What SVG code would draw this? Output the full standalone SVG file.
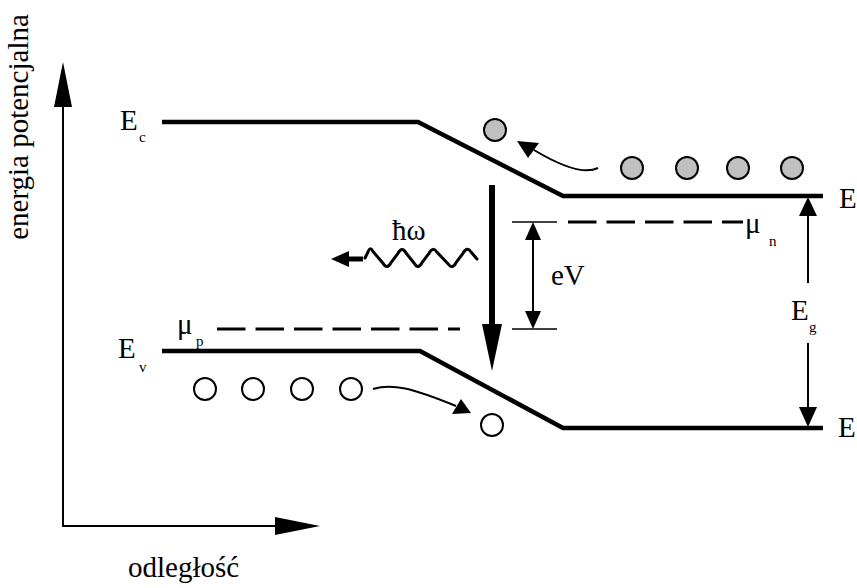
<svg xmlns="http://www.w3.org/2000/svg" width="857" height="588" viewBox="0 0 857 588">
<style>
  text { font-family: "Liberation Serif", "Times New Roman", serif; fill: #000; }
  .lbl { font-size: 29px; }
  .sub { font-size: 15px; }
  .band { fill: none; stroke: #000; stroke-width: 4.5; }
  .dash { fill: none; stroke: #000; stroke-width: 3; stroke-dasharray: 28.5 10; }
  .thin { fill: none; stroke: #000; stroke-width: 2; }
  .tick { fill: none; stroke: #000; stroke-width: 1.5; }
  .head { fill: #000; stroke: none; }
  .el { fill: #c0c0c0; stroke: #000; stroke-width: 2; }
  .hole { fill: #fff; stroke: #000; stroke-width: 2; }
</style>
<rect width="857" height="588" fill="#fff"/>

<g id="axes">
  <line class="thin" x1="63" y1="527" x2="63" y2="100"/>
  <polygon class="head" points="63,62 72,107 54,107"/>
  <line class="thin" x1="62" y1="526" x2="280" y2="526"/>
  <polygon class="head" points="320,526 275,517 275,535"/>
  <text class="lbl" transform="translate(28,127) rotate(-90)" text-anchor="middle">energia potencjalna</text>
  <text class="lbl" x="128" y="577">odległość</text>
</g>

<g id="conduction-band">
  <polyline class="band" points="162,122 418,122 563,196 823,196"/>
  <text class="lbl" x="120" y="130">E</text><text class="sub" x="139" y="142">c</text>
  <text class="lbl" x="839" y="208">E</text>
</g>

<g id="valence-band">
  <polyline class="band" points="162,351 420,351 563,428 823,428"/>
  <text class="lbl" x="118" y="358">E</text><text class="sub" x="139" y="372">v</text>
  <text class="lbl" x="838" y="437">E</text>
</g>

<g id="mu-n">
  <line class="dash" x1="568" y1="222" x2="743" y2="222"/>
  <text class="lbl" x="745" y="233">μ</text><text class="sub" x="769" y="246">n</text>
</g>

<g id="mu-p">
  <line class="dash" x1="217" y1="329" x2="460" y2="329"/>
  <text class="lbl" x="177" y="334">μ</text><text class="sub" x="196" y="346">p</text>
</g>

<g id="electrons">
  <circle class="el" cx="495" cy="130" r="11"/>
  <circle class="el" cx="632" cy="168" r="11"/>
  <circle class="el" cx="687" cy="168" r="11"/>
  <circle class="el" cx="738" cy="168" r="11"/>
  <circle class="el" cx="792" cy="168" r="11"/>
</g>

<g id="holes">
  <circle class="hole" cx="205" cy="389" r="11"/>
  <circle class="hole" cx="253" cy="389" r="11"/>
  <circle class="hole" cx="302" cy="389" r="11"/>
  <circle class="hole" cx="351" cy="389" r="11"/>
  <circle class="hole" cx="492" cy="425" r="11"/>
</g>

<g id="photon">
  <path d="M365,258 L368,252 Q370,246 373,251.5 L383,263.3 Q387,270 391,262.7 L398,253.3 Q402,246 406,253 L414,263 Q418,270 422,262.7 L429,253.3 Q433,246 437,252.2 L448,263.8 Q452,270 456,262.7 L463,253.3 Q467,246 471,252 L477,259" fill="none" stroke="#000" stroke-width="3" stroke-linejoin="round" stroke-linecap="round"/>
  <line x1="346" y1="259" x2="363" y2="259" stroke="#000" stroke-width="5"/>
  <polygon class="head" points="331,259 349,251 349,267"/>
  <text class="lbl" x="392" y="240">ħω</text>
</g>

<g id="eV">
  <line class="tick" x1="512" y1="222" x2="557" y2="222"/>
  <line class="tick" x1="512" y1="329" x2="557" y2="329"/>
  <line class="thin" x1="533" y1="236" x2="533" y2="315"/>
  <polygon class="head" points="533,222 541,240 525,240"/>
  <polygon class="head" points="533,329 541,311 525,311"/>
  <text class="lbl" x="551" y="285">eV</text>
</g>

<g id="Eg">
  <line class="thin" x1="808" y1="210" x2="808" y2="283"/>
  <line class="thin" x1="808" y1="343" x2="808" y2="412"/>
  <polygon class="head" points="808,197 817,216 799,216"/>
  <polygon class="head" points="808,427 817,407 799,407"/>
  <text class="lbl" x="791" y="320">E</text><text class="sub" x="809" y="332">g</text>
</g>

<g id="connectors">
  <line x1="492" y1="185" x2="492" y2="326" stroke="#000" stroke-width="6"/>
  <polygon class="head" points="482,324 502,324 492,371"/>
  <path class="thin" d="M598,168 C586,174 564,168 534,150"/>
  <polygon class="head" points="517,141 539,143 528,158"/>
  <path class="thin" d="M373,389 C392,383 412,388 456,406"/>
  <polygon class="head" points="471,413 452,414 461,399"/>
</g>
</svg>
